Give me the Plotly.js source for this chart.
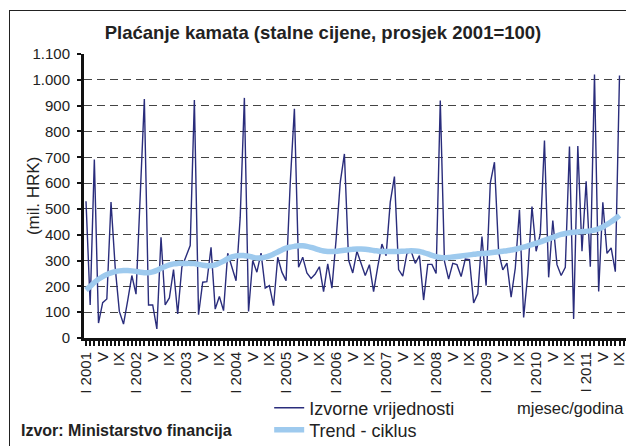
<!DOCTYPE html>
<html>
<head>
<meta charset="utf-8">
<script src="https://cdn.plot.ly/plotly-3.0.1.min.js"></script>
<style>
  html, body { margin:0; padding:0; background:#fff; overflow:hidden; }
  #wrap { position:relative; width:626px; height:446px; overflow:hidden; }
  #chart { position:absolute; left:0; top:0; width:626px; height:446px; }
  #frame { position:absolute; left:9px; top:10px; width:700px; height:500px; border:1.3px solid #222; pointer-events:none; }
</style>
</head>
<body>
<div id="wrap">
  <div id="chart"></div>
  <div id="frame"></div>
</div>
<script>
// Monthly series, I 2001 .. IX 2011
const izvorneVrijednosti = [
  530,128,691,58,137,151,527,274,103,54,145,242,
  170,520,926,128,128,35,390,128,155,265,93,274,
  313,358,922,90,216,218,351,112,161,106,328,274,
  222,468,930,103,300,255,329,193,203,125,313,255,
  222,600,888,274,313,252,231,248,276,180,287,193,
  380,603,713,302,252,336,289,242,284,180,276,364,
  319,526,625,265,240,327,337,289,319,147,285,285,
  250,920,298,228,289,284,238,306,304,136,171,393,
  203,600,681,332,264,290,158,271,497,80,248,509,
  336,403,765,235,455,284,242,274,742,74,744,336,
  607,276,1021,180,526,328,349,257,1017
];
const trendCiklus = [
  186,200,215,228,238,246,252,257,260,261,261,260,
  258,255,253,253,256,262,270,277,283,287,289,289,
  289,289,288,285,282,280,280,283,290,298,307,314,
  318,320,319,317,313,310,310,313,318,325,333,341,
  348,352,355,357,357,355,351,346,341,337,335,335,
  336,338,340,342,344,345,345,344,342,339,337,335,
  335,335,335,335,336,337,338,337,335,331,326,320,
  315,312,311,312,314,316,318,320,322,324,326,327,
  328,330,332,334,336,338,341,344,348,352,357,362,
  367,372,378,384,390,396,401,405,408,410,411,412,
  413,415,418,423,430,440,450,462,475
];
const xTickLabels = [
  "I 2001","V","IX","I 2002","V","IX","I 2003","V","IX","I 2004","V","IX",
  "I 2005","V","IX","I 2006","V","IX","I 2007","V","IX","I 2008","V","IX",
  "I 2009","V","IX","I 2010","V","IX","I 2011","V","IX"
];
const yTickValues = [0,100,200,300,400,500,600,700,800,900,1000,1100];
const yTickLabels = ["0","100","200","300","400","500","600","700","800","900","1.000","1.100"];

const months = izvorneVrijednosti.map((_, i) => i);
const xTickVals = xTickLabels.map((_, k) => k * 4);

const FONT = "Liberation Sans, Arial, Helvetica, sans-serif";

const traces = [
  {
    x: months, y: izvorneVrijednosti, type: "scatter", mode: "lines",
    name: "Izvorne vrijednosti", legend: "legend",
    line: { color: "#2a2d7c", width: 1.4 }
  },
  {
    x: months, y: trendCiklus, type: "scatter", mode: "lines",
    name: "Trend - ciklus", legend: "legend2",
    line: { color: "#9ecaee", width: 5.5, shape: "spline" }
  }
];

const legendCommon = {
  xref: "container", yref: "container",
  x: 0.43, xanchor: "left", yanchor: "middle",
  orientation: "v",
  font: { family: FONT, size: 18, color: "#222" },
  bgcolor: "rgba(0,0,0,0)",
  tracegroupgap: 0, itemwidth: 30
};

const layout = {
  width: 626, height: 446,
  paper_bgcolor: "#fff", plot_bgcolor: "#fff",
  margin: { l: 84, r: 0, t: 54, b: 108, autoexpand: false },
  font: { family: FONT, size: 15, color: "#222" },
  title: {
    text: "<b>Plaćanje kamata (stalne cijene, prosjek 2001=100)</b>",
    font: { family: FONT, size: 18.5, color: "#222" },
    x: 0.516, xref: "container", xanchor: "center",
    y: 0.926, yref: "container", yanchor: "middle"
  },
  xaxis: {
    range: [-0.48, 129.56],
    tickmode: "array", tickvals: xTickVals, ticktext: xTickLabels,
    tickangle: -90, ticklabeloverflow: "allow",
    ticks: "outside", ticklen: 5, tickwidth: 2, tickcolor: "#111",
    minor: { tickmode: "linear", tick0: 0, dtick: 1, ticks: "outside", ticklen: 5, tickwidth: 2, tickcolor: "#111", showgrid: false },
    showline: true, linewidth: 3, linecolor: "#111",
    showgrid: false, zeroline: false,
    tickfont: { family: FONT, size: 15, color: "#222" }
  },
  yaxis: {
    range: [0, 1100],
    tickmode: "array", tickvals: yTickValues, ticktext: yTickLabels,
    ticks: "outside", ticklen: 4, tickwidth: 2, tickcolor: "#111",
    ticklabelstandoff: 4,
    showline: true, linewidth: 3, linecolor: "#111",
    showgrid: true, gridcolor: "#444", gridwidth: 1, griddash: "8px,5px",
    zeroline: false,
    tickfont: { family: FONT, size: 15, color: "#222" }
  },
  showlegend: true,
  legend: Object.assign({}, legendCommon, { y: 1 - 408 / 446 }),
  legend2: Object.assign({}, legendCommon, { y: 1 - 430 / 446 }),
  annotations: [
    {
      text: "(mil. HRK)", xref: "paper", yref: "paper",
      x: -0.094, xanchor: "center", y: 0.5, yanchor: "middle",
      textangle: -90, showarrow: false,
      font: { family: FONT, size: 17, color: "#222" }
    },
    {
      text: "mjesec/godina", xref: "paper", yref: "paper",
      x: 1.0, xanchor: "right", y: -0.247, yanchor: "middle",
      showarrow: false, font: { family: FONT, size: 16.5, color: "#222" }
    },
    {
      text: "<b>Izvor: Ministarstvo financija</b>", xref: "paper", yref: "paper",
      x: -0.12, xanchor: "left", y: -0.326, yanchor: "middle",
      showarrow: false, font: { family: FONT, size: 16, color: "#222" }
    }
  ]
};

Plotly.newPlot("chart", traces, layout, { displayModeBar: false, staticPlot: true });
</script>
</body>
</html>
